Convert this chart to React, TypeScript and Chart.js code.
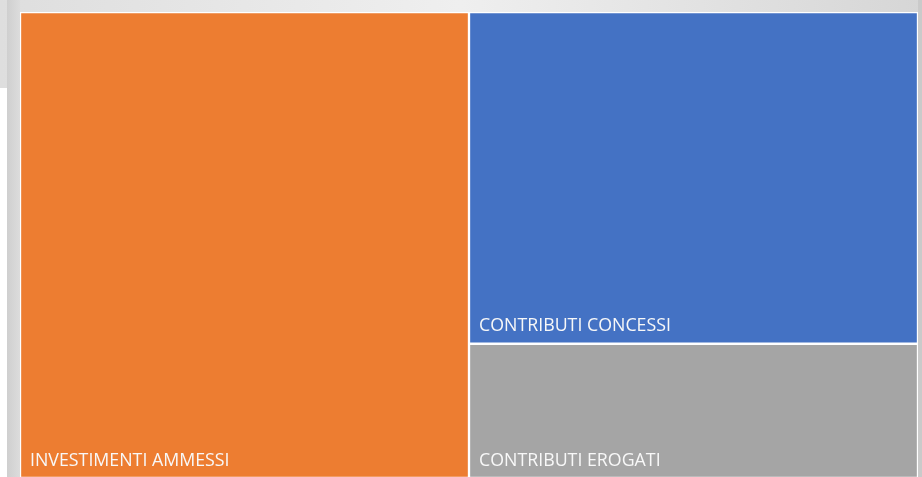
import React, { useEffect, useRef } from "react";
import { Chart, registerables } from "chart.js";

Chart.register(...registerables);

const columns = ["A", "B"];
const seriesNames = ["INVESTIMENTI AMMESSI", "CONTRIBUTI EROGATI", "CONTRIBUTI CONCESSI"];
const investimentiAmmessi = [100, null];
const contributiErogati = [null, 28.8];
const contributiConcessi = [null, 71.2];
const seriesColors = ["#ED7D31", "#A5A5A5", "#4472C4"];

const labelPlugin = {
  id: "tileLabels",
  afterDatasetsDraw(chart: any) {
    const ctx = chart.ctx;
    ctx.save();
    ctx.font = "17.8px 'Open Sans', sans-serif";
    ctx.fillStyle = "#f8f8f8";
    ctx.textBaseline = "alphabetic";
    ctx.textAlign = "left";
    chart.data.datasets.forEach((ds: any, di: number) => {
      const meta = chart.getDatasetMeta(di);
      meta.data.forEach((el: any, i: number) => {
        if (ds.data[i] == null) return;
        const left = el.x - el.width / 2;
        const bottom = Math.max(el.y, el.base);
        ctx.fillText(ds.label, left + 10, bottom - 12.5);
      });
    });
    ctx.restore();
  },
};

export default function App() {
  const ref = useRef<HTMLCanvasElement>(null);
  useEffect(() => {
    if (!ref.current) return;
    const datasets = [investimentiAmmessi, contributiErogati, contributiConcessi].map((d, i) => ({
      label: seriesNames[i],
      data: d,
      backgroundColor: seriesColors[i],
      borderColor: "#ffffff",
      borderWidth: 1.5,
      borderSkipped: false as const,
      categoryPercentage: 1,
      barPercentage: 1,
    }));
    const chart = new Chart(ref.current, {
      type: "bar",
      data: { labels: columns, datasets },
      options: {
        animation: false,
        responsive: false,
        maintainAspectRatio: false,
        layout: { padding: 0 },
        plugins: { legend: { display: false }, tooltip: { enabled: false } },
        scales: {
          x: { stacked: true, display: false, offset: true },
          y: { stacked: true, display: false, min: 0, max: 100 },
        },
      },
      plugins: [labelPlugin],
    });
    return () => chart.destroy();
  }, []);
  return (
    <div
      style={{
        position: "fixed",
        left: 0,
        top: 0,
        width: 922,
        height: 477,
        background: "linear-gradient(to right, #dedede 0%, #efefef 50%, #d6d6d6 100%)",
        overflow: "hidden",
      }}
    >
      <div style={{ position: "absolute", left: 0, top: 88, width: 7, height: 400, background: "#ffffff" }} />
      <div
        style={{
          position: "absolute",
          left: 7,
          top: 0,
          width: 13,
          height: 477,
          background: "linear-gradient(to right, #cfcfcf, #dcdcdc)",
        }}
      />
      <div
        style={{
          position: "absolute",
          left: 918,
          top: 0,
          width: 4,
          height: 477,
          background: "#cacaca",
        }}
      />
      <div
        style={{
          position: "absolute",
          left: 19.5,
          top: 11.5,
          width: 898,
          height: 466,
          background: "#ffffff",
        }}
      >
        <canvas ref={ref} width={898} height={466} style={{ display: "block", width: 898, height: 466 }} />
      </div>
    </div>
  );
}
